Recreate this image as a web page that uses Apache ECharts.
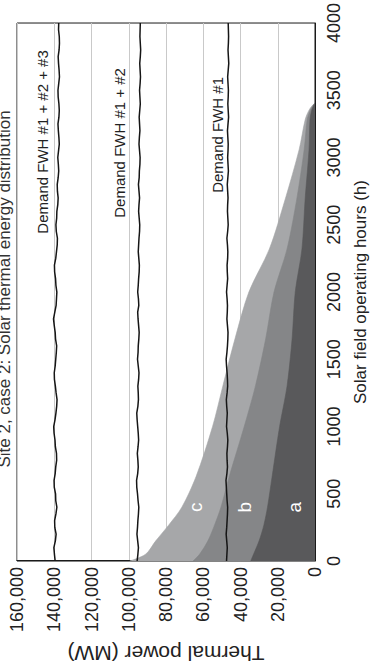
<!DOCTYPE html>
<html>
<head>
<meta charset="utf-8">
<script src="https://cdn.jsdelivr.net/npm/echarts@6/dist/echarts.min.js"></script>
<style>
html,body{margin:0;padding:0;background:#fff;overflow:hidden;width:374px;height:672px;}
#chart{position:absolute;left:0;top:0;width:374px;height:672px;}
</style>
</head>
<body>
<div id="chart"></div>
<script>
// ---- data ----
const titleText = 'Site 2, case 2: Solar thermal energy distribution';
const xAxisName = 'Solar field operating hours (h)';
const yAxisName = 'Thermal power (MW)';

const demandHours = [0,50,100,150,200,250,300,350,400,450,500,550,600,650,700,750,800,850,900,950,
  1000,1050,1100,1150,1200,1250,1300,1350,1400,1450,1500,1550,1600,1650,1700,1750,1800,1850,1900,1950,
  2000,2050,2100,2150,2200,2250,2300,2350,2400,2450,2500,2550,2600,2650,2700,2750,2800,2850,2900,2950,
  3000,3050,3100,3150,3200,3250,3300,3350,3400,3450,3500,3550,3600,3650,3700,3750,3800,3850,3900,3950,4000];
const demand123 = [139500,139900,140200,139400,139000,139700,139800,139100,138600,139200,139300,140000,140100,139500,139200,138700,138800,139400,139600,140100,
  140300,139600,139100,138700,138500,139000,139400,139900,140000,139500,139200,138900,138700,139300,139500,140000,140400,139700,139000,138800,
  138600,139100,139300,139800,139900,139200,138800,138400,138300,138900,139100,138700,138600,138100,137900,138300,138400,137900,137600,137800,
  138100,137700,137300,137500,137800,138000,137500,137300,137500,137900,138000,137600,137200,137400,137700,137900,137400,137200,137300,137700,137600];
const demand12 = [95500,95100,94800,95200,95600,95300,95100,94800,94600,95000,95300,95700,95800,95200,94900,95100,95400,95000,94700,94900,
  95200,95500,95700,95100,94800,94900,95100,94700,94500,94900,95300,95000,94900,94600,94400,94700,95000,95200,94600,94800,
  95200,94900,94700,94400,94300,94600,94900,94700,94500,94200,94100,94400,94700,94500,94200,94500,94800,94400,94300,94000,
  93900,94200,94500,94300,94000,94200,94400,94100,93800,94000,94200,93900,93700,93900,94100,93800,93600,93800,94000,93900,93800];
const demand1 = [47500,47300,47100,47400,47700,47400,47200,47000,46900,47200,47400,47600,47800,47300,47000,47200,47300,47000,46800,47100,
  47500,47300,47100,47400,47600,47200,46900,47000,47200,47500,47700,47300,47000,46800,46700,47000,47300,47100,47000,47200,
  47500,47200,46900,47100,47200,46900,46800,47000,47300,46900,46600,46800,47000,46900,46700,46900,47100,46800,46500,46700,
  46900,46700,46600,46800,47000,46700,46400,46600,46800,46600,46500,46700,46900,46600,46300,46500,46700,46500,46400,46500,46600];

const areaHours = [0,50,150,265,400,630,1000,1300,1650,2000,2320,2690,3060,3280,3350,3390,3405];
const topC = [99500,91000,85500,78700,71500,63800,55000,49500,43000,35500,24500,16000,8500,5300,3300,1200,0];
const topB = [65500,62000,57500,54000,50500,46000,38000,32000,26500,22000,15000,9800,5800,4200,2600,900,0];
const topA = [34500,33000,30000,27500,25500,23000,19000,15000,12300,10600,7000,5300,3200,2700,1800,600,0];

const demandLabels = ['Demand FWH #1 + #2 + #3','Demand FWH #1 + #2','Demand FWH #1'];
const demandLabelAt = [[3798,146450],[3665,104700],[3599,52350]];
const areaLabels = ['c','b','a'];
const areaLabelAt = [[400,64300],[400,37700],[400,11200]];

const xTicks = {min:0, max:4000, interval:500};
const yTicks = {min:0, max:160000, interval:20000};

// ---- build ----
const W = 672, H = 374; // chart drawn landscape, then turned a quarter turn counter-clockwise
const GRID = {left: 106, right: 22, top: 17, bottom: 56};
const pair = (xs, ys) => xs.map((x, i) => [x, ys[i]]);
const fontFam = '"Liberation Sans", Arial, Helvetica, sans-serif';

function areaSeries(name, tops, color, idx) {
  return {
    name, type: 'line', data: pair(areaHours, tops), symbol: 'none',
    smooth: 0.3,
    lineStyle: {width: 0.6, color}, areaStyle: {color, opacity: 1}, itemStyle: {color},
    z: 2 + idx, silent: true,
    markPoint: {
      symbol: 'circle', symbolSize: 0,
      data: [{coord: areaLabelAt[idx], value: areaLabels[idx]}],
      label: {show: true, position: 'inside', formatter: areaLabels[idx], color: '#fff', fontSize: 19, fontFamily: fontFam}
    }
  };
}
function demandSeries(name, vals, idx) {
  return {
    name, type: 'line', data: pair(demandHours, vals), symbol: 'none',
    lineStyle: {width: 1.5, color: '#151515'}, z: 10, silent: true,
    markPoint: {
      symbol: 'circle', symbolSize: 0,
      data: [{coord: demandLabelAt[idx], value: name}],
      label: {show: true, position: 'left', distance: 0, formatter: name, color: '#222', fontSize: 15, fontFamily: fontFam}
    }
  };
}

const dom = document.getElementById('chart');
const chart = echarts.init(dom, null, {renderer: 'svg', width: W, height: H});
chart.setOption({
  animation: false,
  backgroundColor: '#fff',
  title: {text: titleText, left: GRID.left + (W - GRID.left - GRID.right) / 2, textAlign: 'center', top: -9,
    textStyle: {fontSize: 17, fontWeight: 'normal', color: '#333', fontFamily: fontFam}},
  grid: Object.assign({show: true, borderColor: '#1a1a1a', borderWidth: 1, backgroundColor: 'transparent'}, GRID),
  xAxis: {
    type: 'value', min: xTicks.min, max: xTicks.max, interval: xTicks.interval,
    name: xAxisName, nameLocation: 'middle', nameGap: 37,
    nameTextStyle: {fontSize: 17, color: '#222', fontFamily: fontFam},
    axisLine: {show: true, onZero: false, lineStyle: {color: '#1a1a1a', width: 1}},
    axisTick: {show: false},
    axisLabel: {fontSize: 18, color: '#222', margin: 10, fontFamily: fontFam, formatter: v => String(v)},
    splitLine: {show: false}
  },
  yAxis: {
    type: 'value', min: yTicks.min, max: yTicks.max, interval: yTicks.interval,
    name: yAxisName, nameLocation: 'middle', nameGap: 77,
    nameTextStyle: {fontSize: 21, color: '#222', fontFamily: fontFam},
    axisLine: {show: true, lineStyle: {color: '#1a1a1a', width: 1}},
    axisTick: {show: false},
    axisLabel: {fontSize: 18, color: '#222', margin: 6, fontFamily: fontFam,
      formatter: v => v.toLocaleString('en-US')},
    splitLine: {show: true, lineStyle: {color: '#c9c9c9', width: 1}}
  },
  series: [
    areaSeries('c', topC, '#a6a7a9', 0),
    areaSeries('b', topB, '#858688', 1),
    areaSeries('a', topA, '#59595b', 2),
    demandSeries(demandLabels[0], demand123, 0),
    demandSeries(demandLabels[1], demand12, 1),
    demandSeries(demandLabels[2], demand1, 2)
  ]
});

// turn the finished vector drawing a quarter turn inside the SVG itself
function turn() {
  const svg = dom.querySelector('svg');
  if (!svg || svg.getAttribute('data-turned')) return;
  const g = document.createElementNS('http://www.w3.org/2000/svg', 'g');
  g.setAttribute('transform', 'translate(0,' + W + ') rotate(-90)');
  while (svg.firstChild) g.appendChild(svg.firstChild);
  svg.appendChild(g);
  svg.setAttribute('width', H);
  svg.setAttribute('height', W);
  svg.removeAttribute('viewBox');
  svg.style.width = H + 'px';
  svg.style.height = W + 'px';
  svg.setAttribute('data-turned', '1');
  const wrap = svg.parentNode;
  if (wrap && wrap !== dom) { wrap.style.width = H + 'px'; wrap.style.height = W + 'px'; }
}
turn();
</script>
</body>
</html>
